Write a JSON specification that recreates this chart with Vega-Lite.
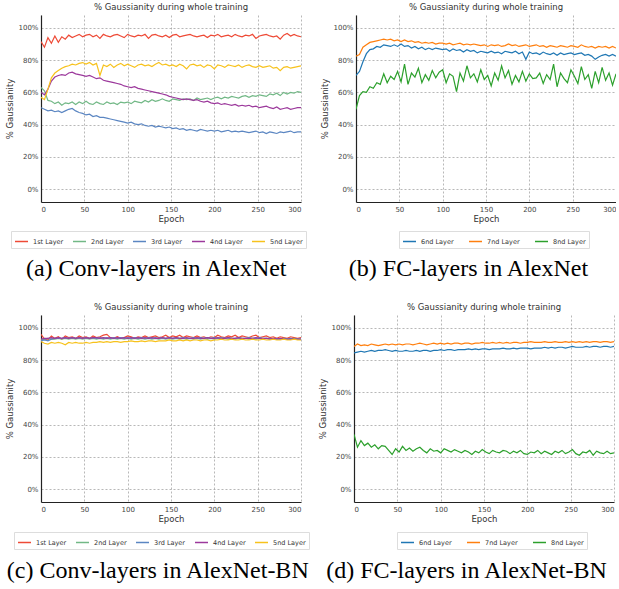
{
"$schema": "https://vega.github.io/schema/vega-lite/v6.json",
"padding": {"left": 5, "top": 2, "right": 0, "bottom": 0},
"config": {
 "view": {"stroke": null},
 "font": "DejaVu Sans",
 "title": {"fontSize": 8.5, "fontWeight": "normal", "color": "#333", "font": "DejaVu Sans"},
 "axis": {"ticks": false, "labelFontSize": 7, "labelColor": "#444", "titleFontSize": 8.5, "titleFontWeight": "normal", "titleColor": "#333", "gridColor": "#999", "gridDash": [2, 2], "gridWidth": 0.7, "domainColor": "#222", "domainWidth": 1.2, "labelPadding": 3},
 "axisY": {"titlePadding": 3},
 "axisX": {"titlePadding": 2},
 "legend": {"orient": "none", "direction": "horizontal", "columns": 5, "symbolType": "stroke", "symbolSize": 169, "symbolStrokeWidth": 1.5, "labelFontSize": 6.5, "labelColor": "#333", "strokeColor": "#ddd", "padding": 3, "columnPadding": 6, "labelOffset": 4}
},
"datasets": {
"a": [
{"x":0,"1st Layer":91.5,"2nd Layer":63,"3rd Layer":50.5,"4nd Layer":60,"5nd Layer":57},
{"x":4,"1st Layer":88,"2nd Layer":61,"3rd Layer":49.5,"4nd Layer":58.5,"5nd Layer":55.5},
{"x":8,"1st Layer":94,"2nd Layer":55,"3rd Layer":48.5,"4nd Layer":62,"5nd Layer":62},
{"x":12,"1st Layer":90.5,"2nd Layer":54.5,"3rd Layer":49,"4nd Layer":67,"5nd Layer":69},
{"x":16,"1st Layer":95,"2nd Layer":53,"3rd Layer":48,"4nd Layer":69.5,"5nd Layer":72},
{"x":20,"1st Layer":91,"2nd Layer":54,"3rd Layer":48.5,"4nd Layer":70.5,"5nd Layer":73.5},
{"x":24,"1st Layer":94.5,"2nd Layer":52,"3rd Layer":47.5,"4nd Layer":71,"5nd Layer":75},
{"x":28,"1st Layer":93,"2nd Layer":53.5,"3rd Layer":48.5,"4nd Layer":70.5,"5nd Layer":76},
{"x":32,"1st Layer":95.5,"2nd Layer":53,"3rd Layer":49.5,"4nd Layer":72,"5nd Layer":76.5},
{"x":36,"1st Layer":94,"2nd Layer":54,"3rd Layer":50,"4nd Layer":72.5,"5nd Layer":77.5},
{"x":40,"1st Layer":95,"2nd Layer":52.5,"3rd Layer":48.5,"4nd Layer":71.5,"5nd Layer":77},
{"x":44,"1st Layer":96,"2nd Layer":54,"3rd Layer":47.5,"4nd Layer":71,"5nd Layer":78},
{"x":48,"1st Layer":94.5,"2nd Layer":53,"3rd Layer":47,"4nd Layer":70.5,"5nd Layer":78.5},
{"x":52,"1st Layer":95.5,"2nd Layer":54.5,"3rd Layer":46,"4nd Layer":70,"5nd Layer":77.5},
{"x":56,"1st Layer":96,"2nd Layer":53,"3rd Layer":46.5,"4nd Layer":70.5,"5nd Layer":78.5},
{"x":60,"1st Layer":94.5,"2nd Layer":52.5,"3rd Layer":45,"4nd Layer":69.5,"5nd Layer":77},
{"x":64,"1st Layer":95.5,"2nd Layer":54,"3rd Layer":45.5,"4nd Layer":68.5,"5nd Layer":78},
{"x":68,"1st Layer":93.5,"2nd Layer":53,"3rd Layer":44.5,"4nd Layer":69,"5nd Layer":70.5},
{"x":72,"1st Layer":96,"2nd Layer":52.5,"3rd Layer":44.5,"4nd Layer":67.5,"5nd Layer":77},
{"x":76,"1st Layer":95,"2nd Layer":54,"3rd Layer":44,"4nd Layer":67,"5nd Layer":76},
{"x":80,"1st Layer":94.5,"2nd Layer":53,"3rd Layer":43.5,"4nd Layer":66.5,"5nd Layer":77.5},
{"x":84,"1st Layer":95.5,"2nd Layer":53.5,"3rd Layer":43,"4nd Layer":66,"5nd Layer":75.5},
{"x":88,"1st Layer":96,"2nd Layer":52.5,"3rd Layer":42.5,"4nd Layer":65.5,"5nd Layer":77},
{"x":92,"1st Layer":95,"2nd Layer":54,"3rd Layer":42,"4nd Layer":65,"5nd Layer":78},
{"x":96,"1st Layer":94,"2nd Layer":53.5,"3rd Layer":41.5,"4nd Layer":64,"5nd Layer":76.5},
{"x":100,"1st Layer":96,"2nd Layer":54,"3rd Layer":41,"4nd Layer":63.5,"5nd Layer":77.5},
{"x":104,"1st Layer":95,"2nd Layer":53,"3rd Layer":41.5,"4nd Layer":63,"5nd Layer":76.5},
{"x":108,"1st Layer":94.5,"2nd Layer":54.5,"3rd Layer":40.5,"4nd Layer":63.5,"5nd Layer":75.5},
{"x":112,"1st Layer":95.5,"2nd Layer":54,"3rd Layer":40,"4nd Layer":62.5,"5nd Layer":77},
{"x":116,"1st Layer":95,"2nd Layer":53.5,"3rd Layer":40.5,"4nd Layer":62,"5nd Layer":77.5},
{"x":120,"1st Layer":96,"2nd Layer":55,"3rd Layer":39.5,"4nd Layer":61.5,"5nd Layer":76.5},
{"x":124,"1st Layer":93.5,"2nd Layer":54,"3rd Layer":39,"4nd Layer":61,"5nd Layer":77},
{"x":128,"1st Layer":95.5,"2nd Layer":55.5,"3rd Layer":39.5,"4nd Layer":60.5,"5nd Layer":76},
{"x":132,"1st Layer":96,"2nd Layer":54.5,"3rd Layer":38.5,"4nd Layer":60,"5nd Layer":77.5},
{"x":136,"1st Layer":95,"2nd Layer":55,"3rd Layer":39,"4nd Layer":59.5,"5nd Layer":78.5},
{"x":140,"1st Layer":94.5,"2nd Layer":56,"3rd Layer":38.5,"4nd Layer":59,"5nd Layer":77},
{"x":144,"1st Layer":95.5,"2nd Layer":55,"3rd Layer":38,"4nd Layer":58.5,"5nd Layer":77.5},
{"x":148,"1st Layer":94,"2nd Layer":54.5,"3rd Layer":38.5,"4nd Layer":57.5,"5nd Layer":76.5},
{"x":152,"1st Layer":95.5,"2nd Layer":56,"3rd Layer":37.5,"4nd Layer":57,"5nd Layer":77},
{"x":156,"1st Layer":96,"2nd Layer":55.5,"3rd Layer":38,"4nd Layer":56.5,"5nd Layer":76},
{"x":160,"1st Layer":94.5,"2nd Layer":55,"3rd Layer":37,"4nd Layer":56,"5nd Layer":77.5},
{"x":164,"1st Layer":95,"2nd Layer":56,"3rd Layer":37.5,"4nd Layer":55.5,"5nd Layer":76.5},
{"x":168,"1st Layer":95.5,"2nd Layer":55.5,"3rd Layer":36.5,"4nd Layer":56,"5nd Layer":74.5},
{"x":172,"1st Layer":96,"2nd Layer":56,"3rd Layer":37,"4nd Layer":55.5,"5nd Layer":77},
{"x":176,"1st Layer":95,"2nd Layer":55,"3rd Layer":36.5,"4nd Layer":55,"5nd Layer":77.5},
{"x":180,"1st Layer":94.5,"2nd Layer":56.5,"3rd Layer":36,"4nd Layer":55.5,"5nd Layer":76.5},
{"x":184,"1st Layer":95,"2nd Layer":55.5,"3rd Layer":37,"4nd Layer":54.5,"5nd Layer":77},
{"x":188,"1st Layer":95.5,"2nd Layer":56,"3rd Layer":36.5,"4nd Layer":54,"5nd Layer":75.5},
{"x":192,"1st Layer":94,"2nd Layer":56.5,"3rd Layer":36,"4nd Layer":54.5,"5nd Layer":77},
{"x":196,"1st Layer":95.5,"2nd Layer":55.5,"3rd Layer":36.5,"4nd Layer":53.5,"5nd Layer":76.5},
{"x":200,"1st Layer":95,"2nd Layer":56.5,"3rd Layer":36,"4nd Layer":53,"5nd Layer":74.5},
{"x":204,"1st Layer":96,"2nd Layer":57,"3rd Layer":36.5,"4nd Layer":53.5,"5nd Layer":77},
{"x":208,"1st Layer":94.5,"2nd Layer":56,"3rd Layer":35.5,"4nd Layer":52.5,"5nd Layer":76.5},
{"x":212,"1st Layer":95,"2nd Layer":57,"3rd Layer":36,"4nd Layer":53,"5nd Layer":75.5},
{"x":216,"1st Layer":95.5,"2nd Layer":56.5,"3rd Layer":36.5,"4nd Layer":52.5,"5nd Layer":77},
{"x":220,"1st Layer":94.5,"2nd Layer":57.5,"3rd Layer":35.5,"4nd Layer":52,"5nd Layer":76.5},
{"x":224,"1st Layer":96,"2nd Layer":57,"3rd Layer":36,"4nd Layer":52.5,"5nd Layer":76},
{"x":228,"1st Layer":95,"2nd Layer":56.5,"3rd Layer":35.5,"4nd Layer":51.5,"5nd Layer":77},
{"x":232,"1st Layer":94.5,"2nd Layer":57.5,"3rd Layer":36,"4nd Layer":52,"5nd Layer":75.5},
{"x":236,"1st Layer":95.5,"2nd Layer":58,"3rd Layer":35.5,"4nd Layer":51.5,"5nd Layer":76.5},
{"x":240,"1st Layer":95,"2nd Layer":57,"3rd Layer":35,"4nd Layer":52,"5nd Layer":77},
{"x":244,"1st Layer":96,"2nd Layer":58,"3rd Layer":35.5,"4nd Layer":51,"5nd Layer":76},
{"x":248,"1st Layer":93.5,"2nd Layer":57.5,"3rd Layer":36,"4nd Layer":51.5,"5nd Layer":75.5},
{"x":252,"1st Layer":95,"2nd Layer":58.5,"3rd Layer":35,"4nd Layer":50.5,"5nd Layer":76.5},
{"x":256,"1st Layer":95.5,"2nd Layer":58,"3rd Layer":35.5,"4nd Layer":51,"5nd Layer":75.5},
{"x":260,"1st Layer":96,"2nd Layer":57.5,"3rd Layer":34.5,"4nd Layer":51.5,"5nd Layer":76},
{"x":264,"1st Layer":95,"2nd Layer":59,"3rd Layer":35.5,"4nd Layer":50.5,"5nd Layer":76.5},
{"x":268,"1st Layer":94.5,"2nd Layer":58.5,"3rd Layer":35,"4nd Layer":50,"5nd Layer":75},
{"x":272,"1st Layer":95,"2nd Layer":59.5,"3rd Layer":34.5,"4nd Layer":51,"5nd Layer":75.5},
{"x":276,"1st Layer":93,"2nd Layer":58,"3rd Layer":35.5,"4nd Layer":49.5,"5nd Layer":73.5},
{"x":280,"1st Layer":95.5,"2nd Layer":60,"3rd Layer":35,"4nd Layer":50,"5nd Layer":75.5},
{"x":284,"1st Layer":96.5,"2nd Layer":59,"3rd Layer":35.5,"4nd Layer":50.5,"5nd Layer":76},
{"x":288,"1st Layer":95,"2nd Layer":60,"3rd Layer":36,"4nd Layer":49.5,"5nd Layer":75},
{"x":292,"1st Layer":96,"2nd Layer":59.5,"3rd Layer":35,"4nd Layer":50,"5nd Layer":75.5},
{"x":296,"1st Layer":95,"2nd Layer":60.5,"3rd Layer":35.5,"4nd Layer":50.5,"5nd Layer":76},
{"x":300,"1st Layer":94.5,"2nd Layer":60,"3rd Layer":35.5,"4nd Layer":50.5,"5nd Layer":76.5}
],
"b": [
{"x":0,"6nd Layer":70.5,"7nd Layer":82.5,"8nd Layer":49.5},
{"x":4,"6nd Layer":73,"7nd Layer":83.5,"8nd Layer":58},
{"x":8,"6nd Layer":79,"7nd Layer":88,"8nd Layer":60.5},
{"x":12,"6nd Layer":84,"7nd Layer":89.5,"8nd Layer":60},
{"x":16,"6nd Layer":86.5,"7nd Layer":91,"8nd Layer":63.5},
{"x":20,"6nd Layer":87,"7nd Layer":91.5,"8nd Layer":62.5},
{"x":24,"6nd Layer":88.5,"7nd Layer":92,"8nd Layer":66},
{"x":28,"6nd Layer":88,"7nd Layer":92.5,"8nd Layer":65},
{"x":32,"6nd Layer":89.5,"7nd Layer":93,"8nd Layer":71.5},
{"x":36,"6nd Layer":89,"7nd Layer":92.5,"8nd Layer":66},
{"x":40,"6nd Layer":88.5,"7nd Layer":93,"8nd Layer":70},
{"x":44,"6nd Layer":89.5,"7nd Layer":92,"8nd Layer":68},
{"x":48,"6nd Layer":88.5,"7nd Layer":92.5,"8nd Layer":73},
{"x":52,"6nd Layer":90,"7nd Layer":91.5,"8nd Layer":66.5},
{"x":56,"6nd Layer":88.5,"7nd Layer":92.5,"8nd Layer":77.5},
{"x":60,"6nd Layer":89,"7nd Layer":91.5,"8nd Layer":65},
{"x":64,"6nd Layer":87.5,"7nd Layer":92,"8nd Layer":72},
{"x":68,"6nd Layer":88.5,"7nd Layer":91,"8nd Layer":69.5},
{"x":72,"6nd Layer":87,"7nd Layer":91.5,"8nd Layer":75},
{"x":76,"6nd Layer":88,"7nd Layer":90.5,"8nd Layer":66},
{"x":80,"6nd Layer":86.5,"7nd Layer":91,"8nd Layer":71},
{"x":84,"6nd Layer":87.5,"7nd Layer":90.5,"8nd Layer":67.5},
{"x":88,"6nd Layer":86.5,"7nd Layer":91,"8nd Layer":73.5},
{"x":92,"6nd Layer":87.5,"7nd Layer":90,"8nd Layer":69},
{"x":96,"6nd Layer":87,"7nd Layer":90.5,"8nd Layer":72.5},
{"x":100,"6nd Layer":86.5,"7nd Layer":90.5,"8nd Layer":74},
{"x":104,"6nd Layer":87,"7nd Layer":90,"8nd Layer":66},
{"x":108,"6nd Layer":85.5,"7nd Layer":90.5,"8nd Layer":71.5},
{"x":112,"6nd Layer":87,"7nd Layer":89.5,"8nd Layer":70},
{"x":116,"6nd Layer":86,"7nd Layer":90,"8nd Layer":60.5},
{"x":120,"6nd Layer":86.5,"7nd Layer":90.5,"8nd Layer":72},
{"x":124,"6nd Layer":85,"7nd Layer":89.5,"8nd Layer":67},
{"x":128,"6nd Layer":86.5,"7nd Layer":90,"8nd Layer":76.5},
{"x":132,"6nd Layer":85.5,"7nd Layer":89.5,"8nd Layer":69},
{"x":136,"6nd Layer":86,"7nd Layer":90,"8nd Layer":71.5},
{"x":140,"6nd Layer":84.5,"7nd Layer":89.5,"8nd Layer":66.5},
{"x":144,"6nd Layer":85.5,"7nd Layer":89,"8nd Layer":74},
{"x":148,"6nd Layer":85,"7nd Layer":89.5,"8nd Layer":68},
{"x":152,"6nd Layer":84.5,"7nd Layer":88.5,"8nd Layer":70.5},
{"x":156,"6nd Layer":85.5,"7nd Layer":89.5,"8nd Layer":64},
{"x":160,"6nd Layer":84.5,"7nd Layer":89,"8nd Layer":72},
{"x":164,"6nd Layer":85,"7nd Layer":89.5,"8nd Layer":67.5},
{"x":168,"6nd Layer":84,"7nd Layer":88.5,"8nd Layer":76.5},
{"x":172,"6nd Layer":85.5,"7nd Layer":89,"8nd Layer":69},
{"x":176,"6nd Layer":85,"7nd Layer":90,"8nd Layer":73.5},
{"x":180,"6nd Layer":84.5,"7nd Layer":89,"8nd Layer":65},
{"x":184,"6nd Layer":85.5,"7nd Layer":89.5,"8nd Layer":70.5},
{"x":188,"6nd Layer":84,"7nd Layer":88.5,"8nd Layer":66.5},
{"x":192,"6nd Layer":85,"7nd Layer":89,"8nd Layer":73},
{"x":196,"6nd Layer":80.5,"7nd Layer":89.5,"8nd Layer":67},
{"x":200,"6nd Layer":85,"7nd Layer":88.5,"8nd Layer":71.5},
{"x":204,"6nd Layer":84,"7nd Layer":89,"8nd Layer":68.5},
{"x":208,"6nd Layer":84.5,"7nd Layer":89.5,"8nd Layer":69},
{"x":212,"6nd Layer":83.5,"7nd Layer":88.5,"8nd Layer":72},
{"x":216,"6nd Layer":85,"7nd Layer":89,"8nd Layer":65.5},
{"x":220,"6nd Layer":84,"7nd Layer":88,"8nd Layer":71},
{"x":224,"6nd Layer":83.5,"7nd Layer":89,"8nd Layer":68},
{"x":228,"6nd Layer":84.5,"7nd Layer":88.5,"8nd Layer":77.5},
{"x":232,"6nd Layer":83,"7nd Layer":88,"8nd Layer":63.5},
{"x":236,"6nd Layer":84.5,"7nd Layer":89,"8nd Layer":72},
{"x":240,"6nd Layer":83.5,"7nd Layer":88.5,"8nd Layer":68.5},
{"x":244,"6nd Layer":84,"7nd Layer":88,"8nd Layer":66},
{"x":248,"6nd Layer":84.5,"7nd Layer":89,"8nd Layer":74},
{"x":252,"6nd Layer":83.5,"7nd Layer":88.5,"8nd Layer":70},
{"x":256,"6nd Layer":84,"7nd Layer":88,"8nd Layer":65.5},
{"x":260,"6nd Layer":84.5,"7nd Layer":89.5,"8nd Layer":76},
{"x":264,"6nd Layer":83,"7nd Layer":88.5,"8nd Layer":68},
{"x":268,"6nd Layer":83.5,"7nd Layer":88,"8nd Layer":71},
{"x":272,"6nd Layer":82.5,"7nd Layer":88.5,"8nd Layer":62.5},
{"x":276,"6nd Layer":80.5,"7nd Layer":87.5,"8nd Layer":73},
{"x":280,"6nd Layer":82,"7nd Layer":88.5,"8nd Layer":66},
{"x":284,"6nd Layer":83,"7nd Layer":88,"8nd Layer":75.5},
{"x":288,"6nd Layer":83.5,"7nd Layer":88.5,"8nd Layer":67.5},
{"x":292,"6nd Layer":82.5,"7nd Layer":87.5,"8nd Layer":72},
{"x":296,"6nd Layer":83.5,"7nd Layer":88.5,"8nd Layer":64.5},
{"x":300,"6nd Layer":82.5,"7nd Layer":87.5,"8nd Layer":71.5}
],
"c": [
{"x":0,"1st Layer":96,"2nd Layer":92.5,"3rd Layer":92,"4nd Layer":93,"5nd Layer":91.5},
{"x":4,"1st Layer":93,"2nd Layer":93,"3rd Layer":92.5,"4nd Layer":93.5,"5nd Layer":90.5},
{"x":8,"1st Layer":92.5,"2nd Layer":93.5,"3rd Layer":92,"4nd Layer":93.5,"5nd Layer":90},
{"x":12,"1st Layer":95,"2nd Layer":93,"3rd Layer":93,"4nd Layer":94,"5nd Layer":91},
{"x":16,"1st Layer":93.5,"2nd Layer":93,"3rd Layer":93.5,"4nd Layer":93.5,"5nd Layer":90.5},
{"x":20,"1st Layer":94.5,"2nd Layer":93.5,"3rd Layer":93.5,"4nd Layer":94,"5nd Layer":91},
{"x":24,"1st Layer":93,"2nd Layer":93,"3rd Layer":93.5,"4nd Layer":93.5,"5nd Layer":90.5},
{"x":28,"1st Layer":95,"2nd Layer":93.5,"3rd Layer":94,"4nd Layer":94,"5nd Layer":89.5},
{"x":32,"1st Layer":94,"2nd Layer":93,"3rd Layer":93.5,"4nd Layer":93.5,"5nd Layer":91},
{"x":36,"1st Layer":94.5,"2nd Layer":93.5,"3rd Layer":94,"4nd Layer":94,"5nd Layer":90.5},
{"x":40,"1st Layer":93.5,"2nd Layer":93,"3rd Layer":93.5,"4nd Layer":93.5,"5nd Layer":91},
{"x":44,"1st Layer":95,"2nd Layer":93.5,"3rd Layer":94,"4nd Layer":94,"5nd Layer":90.5},
{"x":48,"1st Layer":94,"2nd Layer":93,"3rd Layer":93.5,"4nd Layer":93.5,"5nd Layer":90.5},
{"x":52,"1st Layer":94.5,"2nd Layer":93.5,"3rd Layer":94,"4nd Layer":94,"5nd Layer":91},
{"x":56,"1st Layer":93.5,"2nd Layer":93,"3rd Layer":93.5,"4nd Layer":93.5,"5nd Layer":90.5},
{"x":60,"1st Layer":95,"2nd Layer":93.5,"3rd Layer":94,"4nd Layer":94,"5nd Layer":91},
{"x":64,"1st Layer":94,"2nd Layer":93,"3rd Layer":93.5,"4nd Layer":94,"5nd Layer":91},
{"x":68,"1st Layer":94.5,"2nd Layer":93.5,"3rd Layer":94,"4nd Layer":93.5,"5nd Layer":91.5},
{"x":72,"1st Layer":95.5,"2nd Layer":93,"3rd Layer":93.5,"4nd Layer":94,"5nd Layer":91},
{"x":76,"1st Layer":96,"2nd Layer":93.5,"3rd Layer":94,"4nd Layer":93.5,"5nd Layer":91.5},
{"x":80,"1st Layer":94,"2nd Layer":93,"3rd Layer":93.5,"4nd Layer":94,"5nd Layer":91},
{"x":84,"1st Layer":93.5,"2nd Layer":93.5,"3rd Layer":94,"4nd Layer":93.5,"5nd Layer":91.5},
{"x":88,"1st Layer":94.5,"2nd Layer":93,"3rd Layer":93.5,"4nd Layer":94,"5nd Layer":91.5},
{"x":92,"1st Layer":93.5,"2nd Layer":93.5,"3rd Layer":94,"4nd Layer":93.5,"5nd Layer":91},
{"x":96,"1st Layer":94,"2nd Layer":93,"3rd Layer":93.5,"4nd Layer":94,"5nd Layer":91.5},
{"x":100,"1st Layer":95,"2nd Layer":93.5,"3rd Layer":94,"4nd Layer":93.5,"5nd Layer":91.5},
{"x":104,"1st Layer":94.5,"2nd Layer":93,"3rd Layer":93.5,"4nd Layer":94,"5nd Layer":92},
{"x":108,"1st Layer":93.5,"2nd Layer":93.5,"3rd Layer":94,"4nd Layer":93.5,"5nd Layer":91.5},
{"x":112,"1st Layer":94.5,"2nd Layer":93,"3rd Layer":93.5,"4nd Layer":94,"5nd Layer":91.5},
{"x":116,"1st Layer":94,"2nd Layer":93.5,"3rd Layer":94,"4nd Layer":93.5,"5nd Layer":92},
{"x":120,"1st Layer":95,"2nd Layer":93,"3rd Layer":93.5,"4nd Layer":94,"5nd Layer":91.5},
{"x":124,"1st Layer":94,"2nd Layer":93.5,"3rd Layer":94,"4nd Layer":93.5,"5nd Layer":92},
{"x":128,"1st Layer":94.5,"2nd Layer":93,"3rd Layer":93.5,"4nd Layer":94,"5nd Layer":92},
{"x":132,"1st Layer":95,"2nd Layer":93.5,"3rd Layer":94,"4nd Layer":93.5,"5nd Layer":91.5},
{"x":136,"1st Layer":94,"2nd Layer":93,"3rd Layer":93.5,"4nd Layer":93.5,"5nd Layer":92},
{"x":140,"1st Layer":94.5,"2nd Layer":93.5,"3rd Layer":94,"4nd Layer":94,"5nd Layer":92},
{"x":144,"1st Layer":95.5,"2nd Layer":93,"3rd Layer":93.5,"4nd Layer":93.5,"5nd Layer":92},
{"x":148,"1st Layer":94,"2nd Layer":93.5,"3rd Layer":94,"4nd Layer":94,"5nd Layer":92.5},
{"x":152,"1st Layer":95,"2nd Layer":93,"3rd Layer":93.5,"4nd Layer":93.5,"5nd Layer":92},
{"x":156,"1st Layer":94.5,"2nd Layer":93.5,"3rd Layer":94,"4nd Layer":94,"5nd Layer":92},
{"x":160,"1st Layer":95.5,"2nd Layer":93,"3rd Layer":93.5,"4nd Layer":93.5,"5nd Layer":92.5},
{"x":164,"1st Layer":94,"2nd Layer":93.5,"3rd Layer":94,"4nd Layer":93.5,"5nd Layer":92},
{"x":168,"1st Layer":95,"2nd Layer":93,"3rd Layer":93.5,"4nd Layer":94,"5nd Layer":92.5},
{"x":172,"1st Layer":94.5,"2nd Layer":93.5,"3rd Layer":93.5,"4nd Layer":93.5,"5nd Layer":92},
{"x":176,"1st Layer":94,"2nd Layer":93,"3rd Layer":94,"4nd Layer":93.5,"5nd Layer":92.5},
{"x":180,"1st Layer":95,"2nd Layer":93.5,"3rd Layer":93.5,"4nd Layer":94,"5nd Layer":92.5},
{"x":184,"1st Layer":94,"2nd Layer":93,"3rd Layer":94,"4nd Layer":93.5,"5nd Layer":92},
{"x":188,"1st Layer":94.5,"2nd Layer":93.5,"3rd Layer":93.5,"4nd Layer":93.5,"5nd Layer":92.5},
{"x":192,"1st Layer":93.5,"2nd Layer":93,"3rd Layer":94,"4nd Layer":94,"5nd Layer":92.5},
{"x":196,"1st Layer":94.5,"2nd Layer":93.5,"3rd Layer":93.5,"4nd Layer":93.5,"5nd Layer":92},
{"x":200,"1st Layer":94,"2nd Layer":93,"3rd Layer":94,"4nd Layer":93.5,"5nd Layer":92.5},
{"x":204,"1st Layer":95.5,"2nd Layer":93.5,"3rd Layer":93.5,"4nd Layer":94,"5nd Layer":92.5},
{"x":208,"1st Layer":94.5,"2nd Layer":93,"3rd Layer":94,"4nd Layer":93.5,"5nd Layer":93},
{"x":212,"1st Layer":94,"2nd Layer":93.5,"3rd Layer":93.5,"4nd Layer":93.5,"5nd Layer":92.5},
{"x":216,"1st Layer":95,"2nd Layer":93,"3rd Layer":94,"4nd Layer":94,"5nd Layer":92.5},
{"x":220,"1st Layer":94.5,"2nd Layer":93.5,"3rd Layer":93.5,"4nd Layer":93.5,"5nd Layer":93},
{"x":224,"1st Layer":95.5,"2nd Layer":93,"3rd Layer":93.5,"4nd Layer":93.5,"5nd Layer":92.5},
{"x":228,"1st Layer":94,"2nd Layer":93.5,"3rd Layer":94,"4nd Layer":94,"5nd Layer":92.5},
{"x":232,"1st Layer":95,"2nd Layer":93,"3rd Layer":93.5,"4nd Layer":93.5,"5nd Layer":93},
{"x":236,"1st Layer":94.5,"2nd Layer":93.5,"3rd Layer":93.5,"4nd Layer":93.5,"5nd Layer":92.5},
{"x":240,"1st Layer":94,"2nd Layer":93,"3rd Layer":94,"4nd Layer":93.5,"5nd Layer":92.5},
{"x":244,"1st Layer":95,"2nd Layer":93.5,"3rd Layer":93.5,"4nd Layer":93.5,"5nd Layer":93},
{"x":248,"1st Layer":95.5,"2nd Layer":93,"3rd Layer":93.5,"4nd Layer":94,"5nd Layer":92.5},
{"x":252,"1st Layer":94,"2nd Layer":93.5,"3rd Layer":94,"4nd Layer":93.5,"5nd Layer":92.5},
{"x":256,"1st Layer":94.5,"2nd Layer":93,"3rd Layer":93.5,"4nd Layer":93.5,"5nd Layer":93},
{"x":260,"1st Layer":95,"2nd Layer":93.5,"3rd Layer":93.5,"4nd Layer":93.5,"5nd Layer":92.5},
{"x":264,"1st Layer":94,"2nd Layer":93,"3rd Layer":93.5,"4nd Layer":93,"5nd Layer":92.5},
{"x":268,"1st Layer":94.5,"2nd Layer":93.5,"3rd Layer":93,"4nd Layer":93.5,"5nd Layer":93},
{"x":272,"1st Layer":93.5,"2nd Layer":93,"3rd Layer":93.5,"4nd Layer":93,"5nd Layer":92.5},
{"x":276,"1st Layer":94.5,"2nd Layer":93,"3rd Layer":93,"4nd Layer":93.5,"5nd Layer":92.5},
{"x":280,"1st Layer":94,"2nd Layer":93.5,"3rd Layer":93.5,"4nd Layer":93,"5nd Layer":93},
{"x":284,"1st Layer":93.5,"2nd Layer":93,"3rd Layer":93,"4nd Layer":93,"5nd Layer":92.5},
{"x":288,"1st Layer":94.5,"2nd Layer":93,"3rd Layer":93.5,"4nd Layer":93,"5nd Layer":92.5},
{"x":292,"1st Layer":94,"2nd Layer":93.5,"3rd Layer":93,"4nd Layer":93,"5nd Layer":93},
{"x":296,"1st Layer":93.5,"2nd Layer":93,"3rd Layer":93,"4nd Layer":93,"5nd Layer":92.5},
{"x":300,"1st Layer":94,"2nd Layer":93,"3rd Layer":93,"4nd Layer":93,"5nd Layer":92.5}
],
"d": [
{"x":0,"6nd Layer":84.5,"7nd Layer":88.5,"8nd Layer":34},
{"x":4,"6nd Layer":85,"7nd Layer":90,"8nd Layer":26},
{"x":8,"6nd Layer":85.5,"7nd Layer":89,"8nd Layer":30},
{"x":12,"6nd Layer":85,"7nd Layer":89.5,"8nd Layer":27},
{"x":16,"6nd Layer":85.5,"7nd Layer":89,"8nd Layer":28.5},
{"x":20,"6nd Layer":86,"7nd Layer":90,"8nd Layer":26},
{"x":24,"6nd Layer":85.5,"7nd Layer":89.5,"8nd Layer":27.5},
{"x":28,"6nd Layer":86,"7nd Layer":89,"8nd Layer":25},
{"x":32,"6nd Layer":86,"7nd Layer":89.5,"8nd Layer":27},
{"x":36,"6nd Layer":86.5,"7nd Layer":90,"8nd Layer":26.5},
{"x":40,"6nd Layer":86,"7nd Layer":89.5,"8nd Layer":24},
{"x":44,"6nd Layer":85.5,"7nd Layer":90,"8nd Layer":21.5},
{"x":48,"6nd Layer":86,"7nd Layer":89.5,"8nd Layer":25},
{"x":52,"6nd Layer":85.5,"7nd Layer":90,"8nd Layer":23},
{"x":56,"6nd Layer":85.5,"7nd Layer":89.5,"8nd Layer":26.5},
{"x":60,"6nd Layer":86,"7nd Layer":90,"8nd Layer":24},
{"x":64,"6nd Layer":85.5,"7nd Layer":90,"8nd Layer":25.5},
{"x":68,"6nd Layer":85.5,"7nd Layer":89.5,"8nd Layer":23.5},
{"x":72,"6nd Layer":86,"7nd Layer":90,"8nd Layer":25},
{"x":76,"6nd Layer":85.5,"7nd Layer":90.5,"8nd Layer":26},
{"x":80,"6nd Layer":86,"7nd Layer":90,"8nd Layer":24},
{"x":84,"6nd Layer":86,"7nd Layer":89.5,"8nd Layer":22.5},
{"x":88,"6nd Layer":85.5,"7nd Layer":90,"8nd Layer":25},
{"x":92,"6nd Layer":86,"7nd Layer":90.5,"8nd Layer":23.5},
{"x":96,"6nd Layer":86,"7nd Layer":90,"8nd Layer":24},
{"x":100,"6nd Layer":86.5,"7nd Layer":90.5,"8nd Layer":22.5},
{"x":104,"6nd Layer":86,"7nd Layer":90,"8nd Layer":25},
{"x":108,"6nd Layer":86.5,"7nd Layer":90.5,"8nd Layer":24},
{"x":112,"6nd Layer":86.5,"7nd Layer":90,"8nd Layer":23},
{"x":116,"6nd Layer":86,"7nd Layer":90.5,"8nd Layer":24.5},
{"x":120,"6nd Layer":86.5,"7nd Layer":90.5,"8nd Layer":23.5},
{"x":124,"6nd Layer":86.5,"7nd Layer":90,"8nd Layer":22.5},
{"x":128,"6nd Layer":86.5,"7nd Layer":90.5,"8nd Layer":24},
{"x":132,"6nd Layer":87,"7nd Layer":90.5,"8nd Layer":23},
{"x":136,"6nd Layer":86.5,"7nd Layer":90,"8nd Layer":21.5},
{"x":140,"6nd Layer":87,"7nd Layer":90.5,"8nd Layer":23.5},
{"x":144,"6nd Layer":86.5,"7nd Layer":90.5,"8nd Layer":22.5},
{"x":148,"6nd Layer":87,"7nd Layer":91,"8nd Layer":24.5},
{"x":152,"6nd Layer":87,"7nd Layer":90.5,"8nd Layer":23},
{"x":156,"6nd Layer":86.5,"7nd Layer":90.5,"8nd Layer":22},
{"x":160,"6nd Layer":87,"7nd Layer":91,"8nd Layer":24},
{"x":164,"6nd Layer":87,"7nd Layer":90.5,"8nd Layer":23},
{"x":168,"6nd Layer":87,"7nd Layer":91,"8nd Layer":22.5},
{"x":172,"6nd Layer":87.5,"7nd Layer":90.5,"8nd Layer":24},
{"x":176,"6nd Layer":87,"7nd Layer":91,"8nd Layer":23.5},
{"x":180,"6nd Layer":87,"7nd Layer":90.5,"8nd Layer":22},
{"x":184,"6nd Layer":87.5,"7nd Layer":91,"8nd Layer":23.5},
{"x":188,"6nd Layer":87,"7nd Layer":91,"8nd Layer":22.5},
{"x":192,"6nd Layer":87.5,"7nd Layer":90.5,"8nd Layer":24},
{"x":196,"6nd Layer":87.5,"7nd Layer":91,"8nd Layer":22},
{"x":200,"6nd Layer":87.5,"7nd Layer":91,"8nd Layer":21.5},
{"x":204,"6nd Layer":87,"7nd Layer":91.5,"8nd Layer":23},
{"x":208,"6nd Layer":87.5,"7nd Layer":91,"8nd Layer":22.5},
{"x":212,"6nd Layer":87.5,"7nd Layer":91,"8nd Layer":24},
{"x":216,"6nd Layer":87.5,"7nd Layer":91,"8nd Layer":22},
{"x":220,"6nd Layer":88,"7nd Layer":91.5,"8nd Layer":23.5},
{"x":224,"6nd Layer":87.5,"7nd Layer":91,"8nd Layer":22.5},
{"x":228,"6nd Layer":88,"7nd Layer":91,"8nd Layer":21.5},
{"x":232,"6nd Layer":87.5,"7nd Layer":91.5,"8nd Layer":23.5},
{"x":236,"6nd Layer":88,"7nd Layer":91,"8nd Layer":22.5},
{"x":240,"6nd Layer":88,"7nd Layer":91,"8nd Layer":24},
{"x":244,"6nd Layer":87.5,"7nd Layer":91.5,"8nd Layer":22},
{"x":248,"6nd Layer":88,"7nd Layer":91,"8nd Layer":23},
{"x":252,"6nd Layer":88.5,"7nd Layer":91.5,"8nd Layer":24.5},
{"x":256,"6nd Layer":88,"7nd Layer":91,"8nd Layer":22},
{"x":260,"6nd Layer":88,"7nd Layer":91.5,"8nd Layer":21},
{"x":264,"6nd Layer":88,"7nd Layer":91,"8nd Layer":23},
{"x":268,"6nd Layer":88.5,"7nd Layer":91.5,"8nd Layer":22.5},
{"x":272,"6nd Layer":88,"7nd Layer":91,"8nd Layer":24},
{"x":276,"6nd Layer":88.5,"7nd Layer":91.5,"8nd Layer":21},
{"x":280,"6nd Layer":88.5,"7nd Layer":91.5,"8nd Layer":23.5},
{"x":284,"6nd Layer":88,"7nd Layer":91,"8nd Layer":22.5},
{"x":288,"6nd Layer":88.5,"7nd Layer":91.5,"8nd Layer":22},
{"x":292,"6nd Layer":88.5,"7nd Layer":91.5,"8nd Layer":23.5},
{"x":296,"6nd Layer":88,"7nd Layer":91,"8nd Layer":22},
{"x":300,"6nd Layer":88.5,"7nd Layer":91.5,"8nd Layer":22.5}
]
},
"resolve": {"scale": {"color": "independent"}, "legend": {"color": "independent"}},
"spacing": 21,
"vconcat": [
{
 "resolve": {"scale": {"color": "independent"}, "legend": {"color": "independent"}},
 "spacing": 13,
 "hconcat": [
 {
  "title": {"text": "(a) Conv-layers in AlexNet", "orient": "bottom", "anchor": "middle", "font": "Liberation Serif", "fontSize": 24, "color": "#000", "offset": 8},
  "vconcat": [{
   "width": 260, "height": 187,
   "title": {"text": "% Gaussianity during whole training", "frame": "group", "offset": 4},
   "data": {"name": "a"},
   "transform": [{"fold": ["1st Layer", "2nd Layer", "3rd Layer", "4nd Layer", "5nd Layer"], "as": ["layer", "value"]}],
   "mark": {"type": "line", "strokeWidth": 1.2, "clip": true},
   "encoding": {
    "x": {"field": "x", "type": "quantitative", "scale": {"domain": [0, 300], "nice": false}, "axis": {"values": [0, 50, 100, 150, 200, 250, 300], "title": "Epoch"}},
    "y": {"field": "value", "type": "quantitative", "scale": {"domain": [-8, 108], "nice": false, "zero": false}, "axis": {"values": [0, 20, 40, 60, 80, 100], "labelExpr": "datum.value + '%'", "title": "% Gaussianity"}},
    "color": {"field": "layer", "type": "nominal", "scale": {"domain": ["1st Layer", "2nd Layer", "3rd Layer", "4nd Layer", "5nd Layer"], "range": ["#ee4a36", "#72b886", "#5b86c2", "#9c399c", "#f7c21c"]}, "legend": {"title": null, "legendX": -30, "legendY": 216}}
   }
  }]
 },
 {
  "title": {"text": "(b) FC-layers in AlexNet", "orient": "bottom", "anchor": "middle", "font": "Liberation Serif", "fontSize": 24, "color": "#000", "offset": 8},
  "vconcat": [{
   "width": 260, "height": 187,
   "title": {"text": "% Gaussianity during whole training", "frame": "group", "offset": 4},
   "data": {"name": "b"},
   "transform": [{"fold": ["6nd Layer", "7nd Layer", "8nd Layer"], "as": ["layer", "value"]}],
   "mark": {"type": "line", "strokeWidth": 1.2, "clip": true},
   "encoding": {
    "x": {"field": "x", "type": "quantitative", "scale": {"domain": [0, 300], "nice": false}, "axis": {"values": [0, 50, 100, 150, 200, 250, 300], "title": "Epoch"}},
    "y": {"field": "value", "type": "quantitative", "scale": {"domain": [-8, 108], "nice": false, "zero": false}, "axis": {"values": [0, 20, 40, 60, 80, 100], "labelExpr": "datum.value + '%'", "title": "% Gaussianity"}},
    "color": {"field": "layer", "type": "nominal", "scale": {"domain": ["6nd Layer", "7nd Layer", "8nd Layer"], "range": ["#1f77b4", "#ff7f0e", "#2ca02c"]}, "legend": {"title": null, "columns": 3, "columnPadding": 12, "legendX": 43, "legendY": 216}}
   }
  }]
 }
 ]
},
{
 "resolve": {"scale": {"color": "independent"}, "legend": {"color": "independent"}},
 "spacing": 8,
 "hconcat": [
 {
  "title": {"text": "(c) Conv-layers in AlexNet-BN", "orient": "bottom", "anchor": "middle", "font": "Liberation Serif", "fontSize": 24, "color": "#000", "offset": 9},
  "vconcat": [{
   "width": 260, "height": 187,
   "title": {"text": "% Gaussianity during whole training", "frame": "group", "offset": 4},
   "data": {"name": "c"},
   "transform": [{"fold": ["1st Layer", "2nd Layer", "3rd Layer", "4nd Layer", "5nd Layer"], "as": ["layer", "value"]}],
   "mark": {"type": "line", "strokeWidth": 1.2, "clip": true},
   "encoding": {
    "x": {"field": "x", "type": "quantitative", "scale": {"domain": [0, 300], "nice": false}, "axis": {"values": [0, 50, 100, 150, 200, 250, 300], "title": "Epoch"}},
    "y": {"field": "value", "type": "quantitative", "scale": {"domain": [-8, 108], "nice": false, "zero": false}, "axis": {"values": [0, 20, 40, 60, 80, 100], "labelExpr": "datum.value + '%'", "title": "% Gaussianity"}},
    "color": {"field": "layer", "type": "nominal", "scale": {"domain": ["1st Layer", "2nd Layer", "3rd Layer", "4nd Layer", "5nd Layer"], "range": ["#ee4a36", "#72b886", "#5b86c2", "#9c399c", "#f7c21c"]}, "legend": {"title": null, "legendX": -27, "legendY": 217}}
   }
  }]
 },
 {
  "title": {"text": "(d) FC-layers in AlexNet-BN", "orient": "bottom", "anchor": "middle", "font": "Liberation Serif", "fontSize": 24, "color": "#000", "offset": 9},
  "vconcat": [{
   "width": 260, "height": 187,
   "title": {"text": "% Gaussianity during whole training", "frame": "group", "offset": 4},
   "data": {"name": "d"},
   "transform": [{"fold": ["6nd Layer", "7nd Layer", "8nd Layer"], "as": ["layer", "value"]}],
   "mark": {"type": "line", "strokeWidth": 1.2, "clip": true},
   "encoding": {
    "x": {"field": "x", "type": "quantitative", "scale": {"domain": [0, 300], "nice": false}, "axis": {"values": [0, 50, 100, 150, 200, 250, 300], "title": "Epoch"}},
    "y": {"field": "value", "type": "quantitative", "scale": {"domain": [-8, 108], "nice": false, "zero": false}, "axis": {"values": [0, 20, 40, 60, 80, 100], "labelExpr": "datum.value + '%'", "title": "% Gaussianity"}},
    "color": {"field": "layer", "type": "nominal", "scale": {"domain": ["6nd Layer", "7nd Layer", "8nd Layer"], "range": ["#1f77b4", "#ff7f0e", "#2ca02c"]}, "legend": {"title": null, "columns": 3, "columnPadding": 12, "legendX": 43, "legendY": 217}}
   }
  }]
 }
 ]
}
]
}
